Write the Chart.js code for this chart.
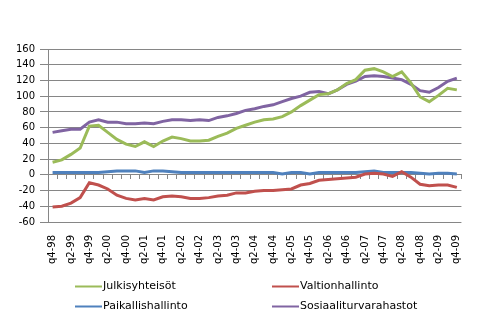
<!DOCTYPE html>
<html>
<head>
<meta charset="utf-8">
<script src="https://cdn.jsdelivr.net/npm/chart.js@4/dist/chart.umd.min.js"></script>
<style>
  html, body { margin: 0; padding: 0; background: #fff; }
  #wrap { width: 482px; height: 327px; position: relative; }
</style>
</head>
<body>
<div id="wrap"><canvas id="c" width="482" height="327"></canvas></div>
<script>
// Quarterly periods, q4-1998 ... q4-2009
const quarters = [
  'q4-98',
  'q1-99','q2-99','q3-99','q4-99',
  'q1-00','q2-00','q3-00','q4-00',
  'q1-01','q2-01','q3-01','q4-01',
  'q1-02','q2-02','q3-02','q4-02',
  'q1-03','q2-03','q3-03','q4-03',
  'q1-04','q2-04','q3-04','q4-04',
  'q1-05','q2-05','q3-05','q4-05',
  'q1-06','q2-06','q3-06','q4-06',
  'q1-07','q2-07','q3-07','q4-07',
  'q1-08','q2-08','q3-08','q4-08',
  'q1-09','q2-09','q3-09','q4-09'
];

const seriesNames = ['Julkisyhteisöt', 'Valtionhallinto', 'Paikallishallinto', 'Sosiaaliturvarahastot'];

const julkisyhteisot = [
  16, 19, 26, 34, 62, 63, 54, 45, 39, 36, 42, 36, 43, 48, 46,
  43, 43, 44, 49, 53, 59, 63, 67, 70, 71, 74, 80, 88, 95, 102,
  103, 108, 116, 121, 133, 135, 131, 125, 131, 117, 99, 93, 101, 110, 108
];
const valtionhallinto = [
  -41, -40, -36, -29, -10, -13, -18, -26, -30, -32, -30, -32, -28, -27, -28,
  -30, -30, -29, -27, -26, -23, -23, -21, -20, -20, -19, -18, -13, -11, -7,
  -6, -5, -4, -3, 1, 2, 1, -2, 4, -3, -12, -14, -13, -13, -16
];
const paikallishallinto = [
  3, 3, 3, 3, 3, 3, 4, 5, 5, 5, 3, 5, 5, 4, 3,
  3, 3, 3, 3, 3, 3, 3, 3, 3, 3, 1, 3, 3, 1, 3,
  3, 3, 3, 3, 4, 5, 3, 3, 3, 3, 2, 1, 2, 2, 1
];
const sosiaaliturvarahastot = [
  54, 56, 58, 58, 67, 70, 67, 67, 65, 65, 66, 65, 68, 70, 70,
  69, 70, 69, 73, 75, 78, 82, 84, 87, 89, 93, 97, 100, 105, 106,
  103, 108, 115, 119, 125, 126, 125, 123, 121, 115, 107, 105, 111, 119, 123
];

const yTicks = { min: -60, max: 160, step: 20 };

const colors = ['#9BBB59', '#C0504D', '#4F81BD', '#8064A2'];
const gridColor = '#868686';
const fontFamily = "'DejaVu Sans', Verdana, sans-serif";

function lineSet(label, data, color) {
  return {
    label, data,
    borderColor: color,
    backgroundColor: color,
    borderWidth: 3,
    pointRadius: 0,
    pointHoverRadius: 0,
    tension: 0,
    fill: false
  };
}

// Legend drawn as two aligned columns under the plot
const columnLegend = {
  id: 'columnLegend',
  afterDraw(chart) {
    const ctx = chart.ctx;
    const colX = [75, 272];
    const rowY = [286.5, 306.5];
    ctx.save();
    ctx.font = "11px " + fontFamily;
    ctx.textBaseline = 'middle';
    ctx.textAlign = 'left';
    chart.data.datasets.forEach((ds, i) => {
      const x = colX[i % 2];
      const y = rowY[Math.floor(i / 2)];
      ctx.strokeStyle = ds.borderColor;
      ctx.lineWidth = 2;
      ctx.beginPath();
      ctx.moveTo(x, y);
      ctx.lineTo(x + 27, y);
      ctx.stroke();
      ctx.fillStyle = '#000';
      ctx.fillText(ds.label, x + 28, y);
    });
    ctx.restore();
  }
};

new Chart(document.getElementById('c'), {
  type: 'line',
  data: {
    labels: quarters,
    datasets: [
      lineSet(seriesNames[0], julkisyhteisot, colors[0]),
      lineSet(seriesNames[1], valtionhallinto, colors[1]),
      lineSet(seriesNames[2], paikallishallinto, colors[2]),
      lineSet(seriesNames[3], sosiaaliturvarahastot, colors[3])
    ]
  },
  options: {
    responsive: false,
    animation: false,
    devicePixelRatio: 1,
    layout: { padding: { top: 49, right: 15, bottom: 57, left: 0 } },
    plugins: {
      legend: { display: false },
      tooltip: { enabled: false }
    },
    scales: {
      x: {
        type: 'category',
        offset: true,
        grid: { display: false, drawTicks: false },
        border: { display: false },
        ticks: {
          autoSkip: false,
          maxRotation: 90,
          minRotation: 90,
          padding: 13,
          color: '#000',
          font: { family: fontFamily, size: 10 },
          callback: (v, i) => (i % 2 === 0 ? quarters[i] : '')
        },
        afterFit: s => { s.height = 48; }
      },
      x2: {
        type: 'category',
        axis: 'x',
        position: { y: 0 },
        offset: true,
        grid: {
          offset: true,
          drawOnChartArea: false,
          drawTicks: true,
          tickLength: 4,
          color: gridColor
        },
        border: { display: true, color: gridColor, width: 1 },
        ticks: { display: false }
      },
      y: {
        type: 'linear',
        min: yTicks.min,
        max: yTicks.max,
        ticks: {
          stepSize: yTicks.step,
          padding: 5,
          color: '#000',
          font: { family: fontFamily, size: 10 }
        },
        grid: { color: gridColor, tickLength: 8 },
        border: { display: true, color: gridColor },
        afterFit: s => { s.width = 48; }
      }
    }
  },
  plugins: [columnLegend]
});
</script>
</body>
</html>
